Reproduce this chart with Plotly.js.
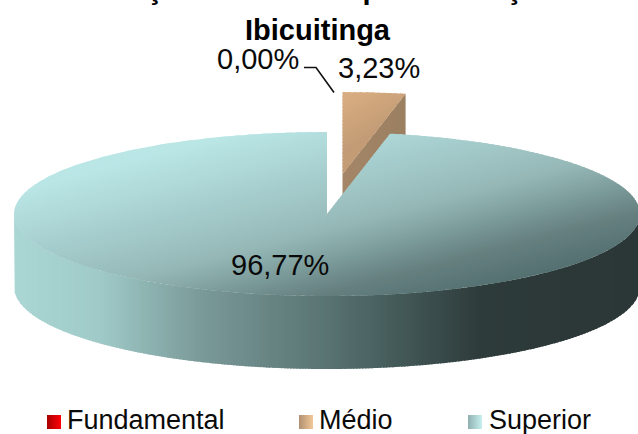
<!DOCTYPE html>
<html><head><meta charset="utf-8">
<script src="https://cdn.plot.ly/plotly-3.0.1.min.js"></script>
<style>html,body{margin:0;padding:0;background:#fff;overflow:hidden}#c{width:638px;height:434px}</style>
</head><body><div id="c"></div>
<script>
// ---- data ----
const categories = ['Fundamental', 'Médio', 'Superior'];
const values = [0.00, 3.23, 96.77];
const titleLines = ['Distribuição Servidores por Formação em', 'Ibicuitinga'];

// ---- styles and geometry of the tilted pie ----
const FONT = '"Liberation Sans", Arial, sans-serif';
const CX = 327, CY = 214, RX = 313, RY = 82, DEPTH = 73, EXPLODE = 153;
const legendMarkColors = [['#a80000', '#ff0008'], ['#b09070', '#f2c898'], ['#8fb0b0', '#c8f0f0']];
const legendMarkX = [54, 306, 475], legendTextX = [65, 317, 487], LEGEND_Y = 420;
const labelPos = [[258, 59], [379, 68], [280, 265]];

const topStops = [[190, '#bae6e6'], [304, '#95b8b7'], [330, '#80a1a0'], [365, '#668080'], [400, '#547070']];
const wallStops = [[14, '#aad6d4'], [100, '#9fcac8'], [200, '#7a9a99'], [327, '#587372'], [400, '#435958'], [480, '#2e3b3b'], [640, '#2b3636']];
const medioTopStops = [[180, '#ecbe8d'], [260, '#d6ab80'], [300, '#c39c76']];
const medioWallStops = [[342, '#a48667'], [406, '#9b7f61']];

// ---- helpers ----
const rad = d => d * Math.PI / 180;
const rim = (cx, cy, a) => [cx + RX * Math.sin(a), cy - RY * Math.cos(a)];
function sector(cx, cy, a0, a1) {
  const p = [[cx, cy]], n = 200;
  for (let i = 0; i <= n; i++) p.push(rim(cx, cy, a0 + (a1 - a0) * i / n));
  return p;
}
const hex = c => [1, 3, 5].map(i => parseInt(c.substr(i, 2), 16));
function colorAt(stops, t) {
  if (t <= stops[0][0]) return stops[0][1];
  for (let i = 1; i < stops.length; i++) if (t <= stops[i][0]) {
    const f = (t - stops[i - 1][0]) / (stops[i][0] - stops[i - 1][0]);
    const a = hex(stops[i - 1][1]), b = hex(stops[i][1]);
    return 'rgb(' + a.map((v, k) => Math.round(v + (b[k] - v) * f)).join(',') + ')';
  }
  return stops[stops.length - 1][1];
}
function clip(poly, d, limit, keepBelow) {
  const out = [], val = p => (p[0] * d[0] + p[1] * d[1] - limit) * (keepBelow ? -1 : 1);
  for (let i = 0; i < poly.length; i++) {
    const a = poly[i], b = poly[(i + 1) % poly.length], va = val(a), vb = val(b);
    if (va >= 0) out.push(a);
    if (va * vb < 0) { const f = va / (va - vb); out.push([a[0] + (b[0] - a[0]) * f, a[1] + (b[1] - a[1]) * f]); }
  }
  return out;
}
const traces = [];
function addPoly(poly, color) {
  if (poly.length < 3) return;
  const c = poly.concat([poly[0]]);
  traces.push({ type: 'scatter', mode: 'lines', x: c.map(p => p[0]), y: c.map(p => p[1]),
    fill: 'toself', fillcolor: color, line: { width: 0 }, hoverinfo: 'skip', showlegend: false });
}
// colour bands of a shape; each band runs a little under the next one so no seam shows
function bands(polys, d, stops, step) {
  const ts = polys.flat().map(p => p[0] * d[0] + p[1] * d[1]);
  const lo = Math.min(...ts), hi = Math.max(...ts);
  for (let t = lo; t < hi; t += step) {
    polys.forEach(poly => {
      let piece = clip(poly, d, t, false);
      piece = clip(piece, d, Math.min(t + step + 1.5, hi), true);
      addPoly(piece, colorAt(stops, t + step / 2));
    });
  }
}

// ---- slices are placed from the values ----
const total = values.reduce((a, b) => a + b, 0);
const medioEnd = rad(values[1] / total * 360), medioMid = medioEnd / 2;
const mx = CX + EXPLODE * Math.sin(medioMid), my = CY - EXPLODE * Math.cos(medioMid) * RY / RX;
const medEndPt = rim(mx, my, medioEnd);

// Médio: cut wall, then top
bands([[[mx, my], medEndPt, [medEndPt[0], medEndPt[1] + DEPTH], [mx, my + DEPTH]]], [1, 0], medioWallStops, 6);
bands([sector(mx, my, 0, medioEnd)], [0.5, 0.85], medioTopStops, 3);

// Superior: outer wall (front half of the rim, dropped by the depth)
const wallPoly = [], wallN = 240;
for (let i = 0; i <= wallN; i++) wallPoly.push(rim(CX, CY, rad(90 + 180 * i / wallN)));
for (let i = wallN; i >= 0; i--) { const p = rim(CX, CY, rad(90 + 180 * i / wallN)); wallPoly.push([p[0], p[1] + DEPTH]); }
bands([wallPoly], [1, 0], wallStops, 3);

// Superior: top, in two overlapping convex halves so the notch stays white
const half = medioEnd + Math.PI;
bands([sector(CX, CY, medioEnd, half), sector(CX, CY, half - rad(1), rad(360))], [0.25, 0.97], topStops, 2.5);

// legend marks
categories.forEach((name, i) => {
  traces.push({ type: 'scatter', mode: 'markers', x: [legendMarkX[i]], y: [422], name: name,
    marker: { symbol: 'square', size: 14, color: legendMarkColors[i][0],
      gradient: { type: 'horizontal', color: legendMarkColors[i][1] } },
    hoverinfo: 'skip', showlegend: false });
});

const fmt = v => v.toFixed(2).replace('.', ',') + '%';
const annotations = values.map((v, i) => ({
  x: labelPos[i][0], y: labelPos[i][1], xref: 'x', yref: 'y', text: fmt(v), showarrow: false,
  font: { family: FONT, size: 29, color: '#0a0a0a' }
}));
categories.forEach((name, i) => annotations.push({
  x: legendTextX[i], y: LEGEND_Y, xref: 'x', yref: 'y', xanchor: 'left', text: name, showarrow: false,
  font: { family: FONT, size: 27, color: '#0a0a0a' }
}));
// first title line: the reference shows only its lower edge, the rest is above the picture
annotations.push({ x: 317.5 / 638, y: 1 + 11 / 434, xref: 'paper', yref: 'paper', xanchor: 'center', yanchor: 'middle',
  text: '<b>' + titleLines[0] + '</b>', showarrow: false, font: { family: FONT, size: 29, color: '#000' } });

Plotly.newPlot('c', traces, {
  width: 638, height: 434, margin: { l: 0, r: 0, t: 0, b: 0 },
  paper_bgcolor: '#fff', plot_bgcolor: '#fff', showlegend: false,
  title: { text: '<b>' + titleLines[1] + '</b>', x: 317.5 / 638, xanchor: 'center', y: 1 - 30 / 434, yanchor: 'middle',
    font: { family: FONT, size: 29, color: '#000' } },
  xaxis: { range: [0, 638], visible: false, fixedrange: true },
  yaxis: { range: [434, 0], visible: false, fixedrange: true },
  annotations: annotations,
  shapes: [{ type: 'path', xref: 'x', yref: 'y', path: 'M 304 67.5 L 316 67.5 L 334 92.5', line: { color: '#111', width: 1.6 } }]
}, { displayModeBar: false, staticPlot: true });
</script></body></html>
